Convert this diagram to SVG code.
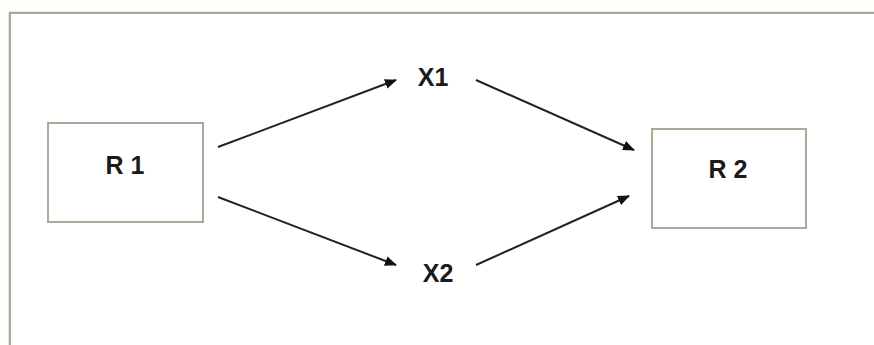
<svg xmlns="http://www.w3.org/2000/svg" width="874" height="345" viewBox="0 0 874 345">
<defs>
<marker id="ah" markerWidth="12" markerHeight="10" refX="11" refY="5" orient="auto" markerUnits="userSpaceOnUse">
<path d="M0,0 L12,5 L0,10 Z" fill="#111"/>
</marker>
<style>
.box{fill:#fff;stroke:#a3ad97;stroke-width:2}
.lbl{font-family:"Liberation Sans",Arial,sans-serif;font-weight:bold;font-size:25px;fill:#1a1a1a;text-anchor:middle}
.edge{stroke:#222;stroke-width:2;fill:none;marker-end:url(#ah)}
</style>
</defs>
<rect x="0" y="0" width="874" height="345" fill="#fdfefb"/>
<path d="M10,345 V13 H874" fill="none" stroke="#a3ad97" stroke-width="2.5"/>
<rect x="11" y="14" width="863" height="331" fill="#fff"/>
<g id="R1">
<rect class="box" x="48" y="123" width="155" height="99"/>
<text class="lbl" x="125" y="174">R 1</text>
</g>
<g id="R2">
<rect class="box" x="652" y="129" width="154" height="99"/>
<text class="lbl" x="728" y="178">R 2</text>
</g>
<g id="X1">
<text class="lbl" x="433" y="86">X1</text>
</g>
<g id="X2">
<text class="lbl" x="438" y="282">X2</text>
</g>
<g id="connectors">
<line class="edge" x1="218" y1="147" x2="396" y2="80"/>
<line class="edge" x1="218" y1="197" x2="396" y2="265"/>
<line class="edge" x1="476" y1="80" x2="634" y2="150"/>
<line class="edge" x1="476" y1="265" x2="629" y2="196"/>
</g>
</svg>
